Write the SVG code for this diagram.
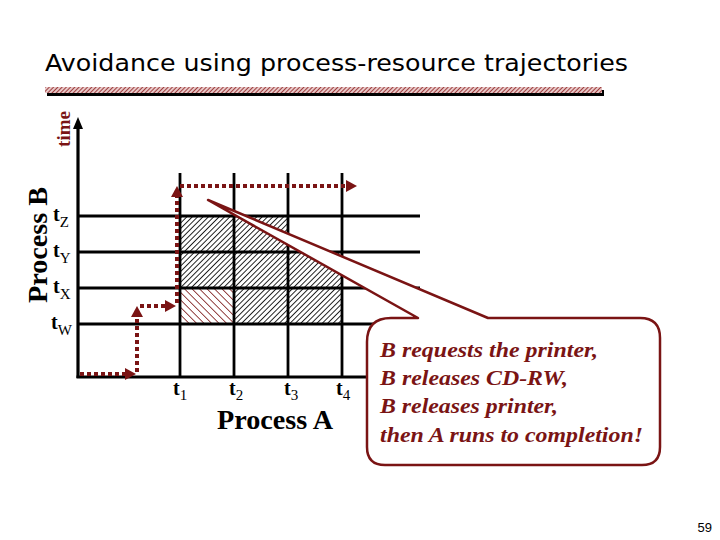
<svg xmlns="http://www.w3.org/2000/svg" width="720" height="540" viewBox="0 0 720 540">
<style>
.ax{stroke:#000;stroke-width:3.2;fill:none}
.gr{stroke:#000;stroke-width:2.8;fill:none}
.tr{stroke:#7a1414;stroke-width:4;stroke-dasharray:4 3;fill:none;marker-end:url(#ah)}
.lbl{font-family:"Liberation Serif",serif;fill:#000}
.co{font-family:"Liberation Serif",serif;font-weight:bold;font-style:italic;font-size:22px;fill:#7a1414}
</style>
<defs>
<pattern id="hb" width="3.8" height="3.8" patternUnits="userSpaceOnUse" patternTransform="rotate(45)">
<rect width="3.8" height="3.8" fill="#fff"/>
<line x1="0" y1="0" x2="0" y2="3.8" stroke="#000" stroke-width="1.7"/>
</pattern>
<pattern id="hr" width="5.3" height="5.3" patternUnits="userSpaceOnUse" patternTransform="rotate(-45)">
<rect width="5.3" height="5.3" fill="#fff"/>
<line x1="0" y1="0" x2="0" y2="5.3" stroke="#7a1414" stroke-width="1.6"/>
</pattern>
<pattern id="tb" width="3" height="3" patternUnits="userSpaceOnUse" patternTransform="rotate(45)">
<rect width="3" height="3" fill="#e8c8c8"/>
<line x1="0" y1="0" x2="0" y2="3" stroke="#8a1c1c" stroke-width="1.6"/>
</pattern>
<marker id="ah" markerUnits="userSpaceOnUse" markerWidth="12" markerHeight="12" refX="3" refY="6" orient="auto">
<path d="M0,0 L11,6 L0,12 z" fill="#7a1414"/>
</marker>
</defs>

<g id="title">
<text x="45" y="71" font-family="'DejaVu Sans',sans-serif" font-size="23" textLength="583" lengthAdjust="spacingAndGlyphs" fill="#000">Avoidance using process-resource trajectories</text>
<rect x="47" y="90" width="557" height="6" fill="#000"/>
<rect x="45" y="87" width="557" height="6" fill="url(#tb)"/>
</g>

<g id="hatching">
<rect x="180" y="216" width="54" height="36" fill="url(#hb)"/>
<rect x="234" y="216" width="54" height="36" fill="url(#hb)"/>
<rect x="180" y="252" width="54" height="36" fill="url(#hb)"/>
<rect x="234" y="252" width="54" height="36" fill="url(#hb)"/>
<rect x="288" y="252" width="54" height="36" fill="url(#hb)"/>
<rect x="180" y="288" width="54" height="36" fill="url(#hr)"/>
<rect x="234" y="288" width="54" height="36" fill="url(#hb)"/>
<rect x="288" y="288" width="54" height="36" fill="url(#hb)"/>
</g>

<g id="grid">
<line class="gr" x1="78" y1="216" x2="420" y2="216"/>
<line class="gr" x1="78" y1="252" x2="420" y2="252"/>
<line class="gr" x1="78" y1="288" x2="420" y2="288"/>
<line class="gr" x1="78" y1="324" x2="420" y2="324"/>
<line class="gr" x1="180" y1="173" x2="180" y2="377"/>
<line class="gr" x1="234" y1="173" x2="234" y2="377"/>
<line class="gr" x1="288" y1="173" x2="288" y2="377"/>
<line class="gr" x1="342" y1="173" x2="342" y2="377"/>
</g>

<g id="axes">
<line class="ax" x1="78" y1="128" x2="78" y2="378"/>
<path d="M73,129 L78,117 L83,129 z" fill="#000"/>
<line class="ax" x1="76.5" y1="377" x2="372" y2="377"/>
</g>

<g id="connectors">
<line class="tr" x1="80" y1="374" x2="128" y2="374"/>
<line class="tr" x1="137" y1="372" x2="137" y2="314"/>
<line class="tr" x1="140" y1="306" x2="168" y2="306"/>
<line class="tr" x1="177" y1="303" x2="177" y2="194"/>
<line class="tr" x1="180" y1="186" x2="349" y2="186"/>
</g>

<g id="labels">
<text class="lbl" x="53" y="221" font-size="20" font-weight="bold">t<tspan font-size="15" font-weight="normal" dy="6">Z</tspan></text>
<text class="lbl" x="53" y="257" font-size="20" font-weight="bold">t<tspan font-size="15" font-weight="normal" dy="6">Y</tspan></text>
<text class="lbl" x="53" y="293" font-size="20" font-weight="bold">t<tspan font-size="15" font-weight="normal" dy="6">X</tspan></text>
<text class="lbl" x="51" y="329" font-size="20" font-weight="bold">t<tspan font-size="15" font-weight="normal" dy="6">W</tspan></text>
<text class="lbl" x="173" y="395" font-size="20" font-weight="bold">t<tspan font-size="15" font-weight="normal" dy="5">1</tspan></text>
<text class="lbl" x="229" y="395" font-size="20" font-weight="bold">t<tspan font-size="15" font-weight="normal" dy="5">2</tspan></text>
<text class="lbl" x="284" y="395" font-size="20" font-weight="bold">t<tspan font-size="15" font-weight="normal" dy="5">3</tspan></text>
<text class="lbl" x="336" y="395" font-size="20" font-weight="bold">t<tspan font-size="15" font-weight="normal" dy="5">4</tspan></text>
<text class="lbl" x="217" y="429" font-size="28" font-weight="bold" textLength="116" lengthAdjust="spacingAndGlyphs">Process A</text>
<text class="lbl" transform="translate(47,245) rotate(-90)" text-anchor="middle" font-size="28" font-weight="bold" textLength="116" lengthAdjust="spacingAndGlyphs">Process B</text>
<text transform="translate(70,129) rotate(-90)" text-anchor="middle" font-family="'Liberation Serif',serif" font-weight="bold" font-size="19" fill="#7a1414">time</text>
</g>

<g id="callout">
<path d="M208,200 L488,318 H640 Q660,318 660,338 V447 Q660,465 642,465 H385 Q367,465 367,447 V342 Q367,318 391,318 H418 Z" fill="#fff" stroke="#7a1414" stroke-width="2.5" stroke-linejoin="round"/>
<text class="co" x="380" y="357" textLength="218" lengthAdjust="spacingAndGlyphs">B requests the printer,</text>
<text class="co" x="380" y="385" textLength="188" lengthAdjust="spacingAndGlyphs">B releases CD-RW,</text>
<text class="co" x="380" y="413" textLength="178" lengthAdjust="spacingAndGlyphs">B releases printer,</text>
<text class="co" x="380" y="442" textLength="263" lengthAdjust="spacingAndGlyphs">then A runs to completion!</text>
</g>

<g id="page">
<text x="712" y="532" text-anchor="end" font-family="'Liberation Sans',sans-serif" font-size="13" fill="#000">59</text>
</g>
</svg>
